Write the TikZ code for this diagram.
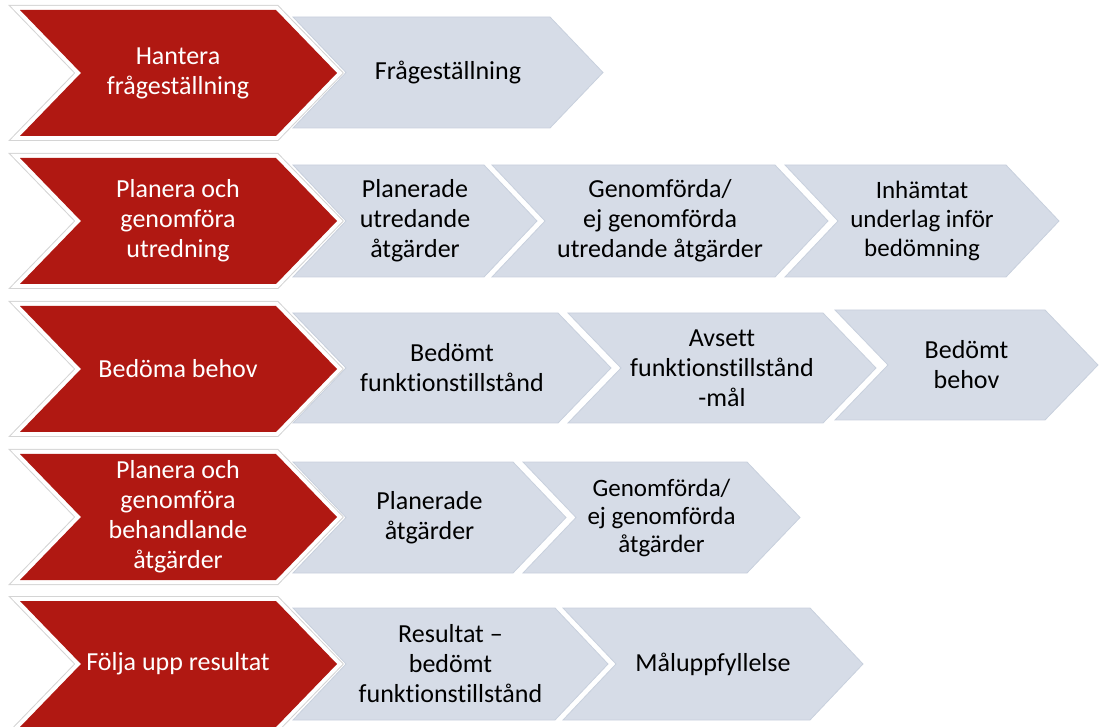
\documentclass[tikz,border=0pt]{standalone}
\usepackage{fontspec}
\setmainfont{Carlito}[Ligatures=NoCommon]
\definecolor{redfill}{HTML}{B01812}
\definecolor{grayfill}{HTML}{D6DCE7}
\definecolor{grayedge}{HTML}{C8D0DD}
\definecolor{framegray}{HTML}{D4D4D4}
\tikzset{
  graychev/.style={fill=grayfill, draw=grayedge, line width=0.8pt, line join=miter},
  redframeout/.style={draw=framegray, line width=10pt, line join=miter},
  redframein/.style={draw=white, line width=8pt, line join=miter},
  redchev/.style={fill=redfill},
  graytext/.style={text=black, align=center, font=\fontsize{26}{30}\selectfont, inner sep=0pt},
  redtext/.style={text=white, align=center, font=\fontsize{26}{30}\selectfont, inner sep=0pt},
}
% gray chevron: [text opts]{left x}{tip x}{top y}{bottom y}{name}{text}
\newcommand{\gchev}[7][]{%
  \path[graychev] (#2,#4) -- ({#3-53},#4) -- (#3,{(#4+#5)/2}) -- ({#3-53},#5) -- (#2,#5) -- ({#2+53},{(#4+#5)/2}) -- cycle;
  \node[graytext,#1] (#6) at ({(#2+#3)/2},{(#4+#5)/2}) {#7};
}
% red chevron: {centre y}{name}{text}
\newcommand{\rchevpath}[1]{(20,{#1-63}) -- (276,{#1-63}) -- (337,#1) -- (276,{#1+63}) -- (20,{#1+63}) -- (81,#1) -- cycle}
\newcommand{\rchev}[3]{%
  \path[redframeout] \rchevpath{#1};
  \path[redframein] \rchevpath{#1};
  \path[redchev] \rchevpath{#1};
  \node[redtext] (#2) at (178,#1) {#3};
}
\begin{document}
\begin{tikzpicture}[x=1pt,y=-1pt]
\useasboundingbox (0,0) rectangle (1104,727);
% Row 1
\gchev{293}{603}{17}{128}{g11}{Frågeställning}
\rchev{73}{r1}{Hantera\\frågeställning}
% Row 2
\gchev{293}{537}{165}{277}{g21}{Planerade\\utredande\\åtgärder}
\gchev{492}{828}{165}{277}{g22}{Genomförda/\\ej genomförda\\utredande åtgärder}
\gchev[font=\fontsize{25}{29}\selectfont]{785}{1059}{165}{277}{g23}{Inhämtat\\underlag inför\\bedömning}
\rchev{221}{r2}{Planera och\\genomföra\\utredning}
% Row 3
\gchev{293}{611}{313}{423}{g31}{Bedömt\\funktionstillstånd}
\gchev{568}{876}{313}{423}{g32}{Avsett\\funktionstillstånd\\-mål}
\gchev{835}{1098}{310}{420}{g33}{Bedömt\\behov}
\rchev{369}{r3}{Bedöma behov}
% Row 4
\gchev{293}{566}{462}{573}{g41}{Planerade\\åtgärder}
\gchev[font=\fontsize{25}{28}\selectfont]{523}{800}{462}{573}{g42}{Genomförda/\\ej genomförda\\åtgärder}
\rchev{517}{r4}{Planera och\\genomföra\\behandlande\\åtgärder}
% Row 5
\gchev{293}{608}{608}{720}{g51}{Resultat –\\bedömt\\funktionstillstånd}
\gchev{563}{863}{608}{720}{g52}{Måluppfyllelse}
\rchev{664}{r5}{Följa upp resultat}
\end{tikzpicture}
\end{document}
